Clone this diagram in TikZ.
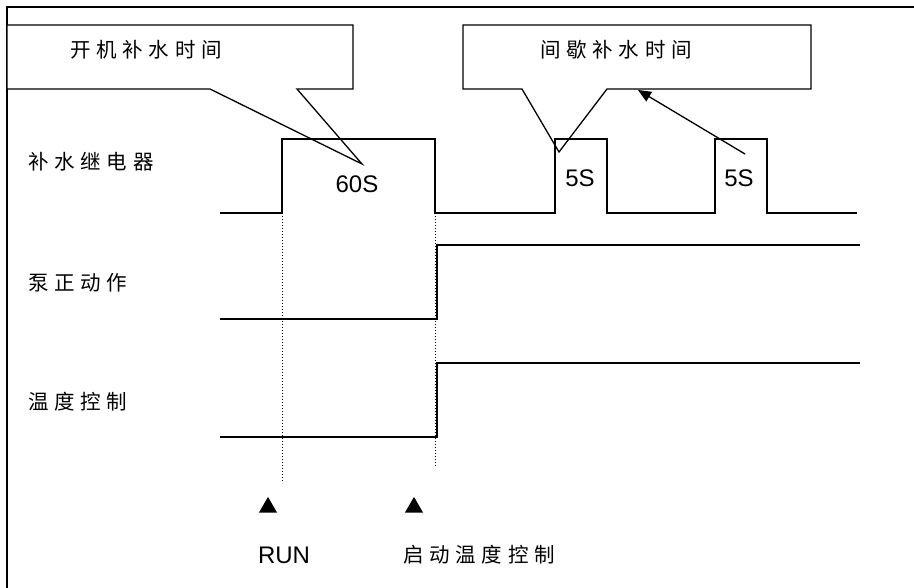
\documentclass[tikz,border=0pt]{standalone}
\usepackage{fontspec}
\setmainfont{Liberation Sans}
\newfontfamily\cjk[LetterSpace=28]{Noto Sans CJK SC}
\usetikzlibrary{arrows.meta,shapes.geometric}
\begin{document}
\begin{tikzpicture}[x=1pt,y=-1pt,
  wave/.style={line width=1.7pt,line join=miter},
  frameline/.style={line width=2pt},
  callout/.style={line width=1.3pt,fill=white,line join=miter},
  guide/.style={line width=1pt,dotted},
  cjklabel/.style={inner sep=0pt,font=\cjk\fontsize{20.5pt}{24pt}\selectfont},
  latinlabel/.style={inner sep=0pt,font=\fontsize{24pt}{27pt}\selectfont},
  marker/.style={regular polygon,regular polygon sides=3,fill=black,minimum size=21pt,inner sep=0pt}]
\useasboundingbox (0,0) rectangle (914,588);
% frame
\draw[frameline] (7,588) -- (7,7) -- (914,7);
% callouts
\draw[callout] (7,25) -- (353,25) -- (353,89) -- (297,89) -- (362,164) -- (210,89) -- (7,89) -- cycle;
\draw[callout] (463,25) -- (811,25) -- (811,89) -- (607,89) -- (559,152) -- (522,89) -- (463,89) -- cycle;
\node[cjklabel,anchor=west] (t1) at (70,50) {开机补水时间};
\node[cjklabel,anchor=west] (t2) at (540,50) {间歇补水时间};
% arrow
\coordinate (arrS) at (745,154);
\coordinate (arrE) at (638,90);
\draw[line width=1.3pt,-{Triangle[length=13pt,width=11pt]}] (arrS) -- (arrE);
% dotted guides
\draw[guide] (282,213) -- (282,483);
\draw[guide] (435,213) -- (435,467);
% waveforms
\draw[wave] (220,213) -- (282,213) -- (282,139) -- (435,139) -- (435,213) -- (555,213) -- (555,139) -- (607,139) -- (607,213) -- (715,213) -- (715,139) -- (767,139) -- (767,213) -- (857,213);
\draw[wave] (220,319) -- (437,319) -- (437,245) -- (860,245);
\draw[wave] (220,437) -- (437,437) -- (437,363) -- (860,363);
% row labels
\node[cjklabel,anchor=west] (l1) at (28,162) {补水继电器};
\node[cjklabel,anchor=west] (l2) at (28,283) {泵正动作};
\node[cjklabel,anchor=west] (l3) at (28,402) {温度控制};
% durations
\node[latinlabel] (d1) at (357,184) {60S};
\node[latinlabel] (d2) at (580,178) {5S};
\node[latinlabel] (d3) at (739,178) {5S};
% markers
\node[marker] (m1) at (268,507.4) {};
\node[marker] (m2) at (414,507.4) {};
\node[latinlabel] (run) at (284,555) {RUN};
\node[cjklabel,anchor=west] (st) at (403,555) {启动温度控制};
\end{tikzpicture}
\end{document}
